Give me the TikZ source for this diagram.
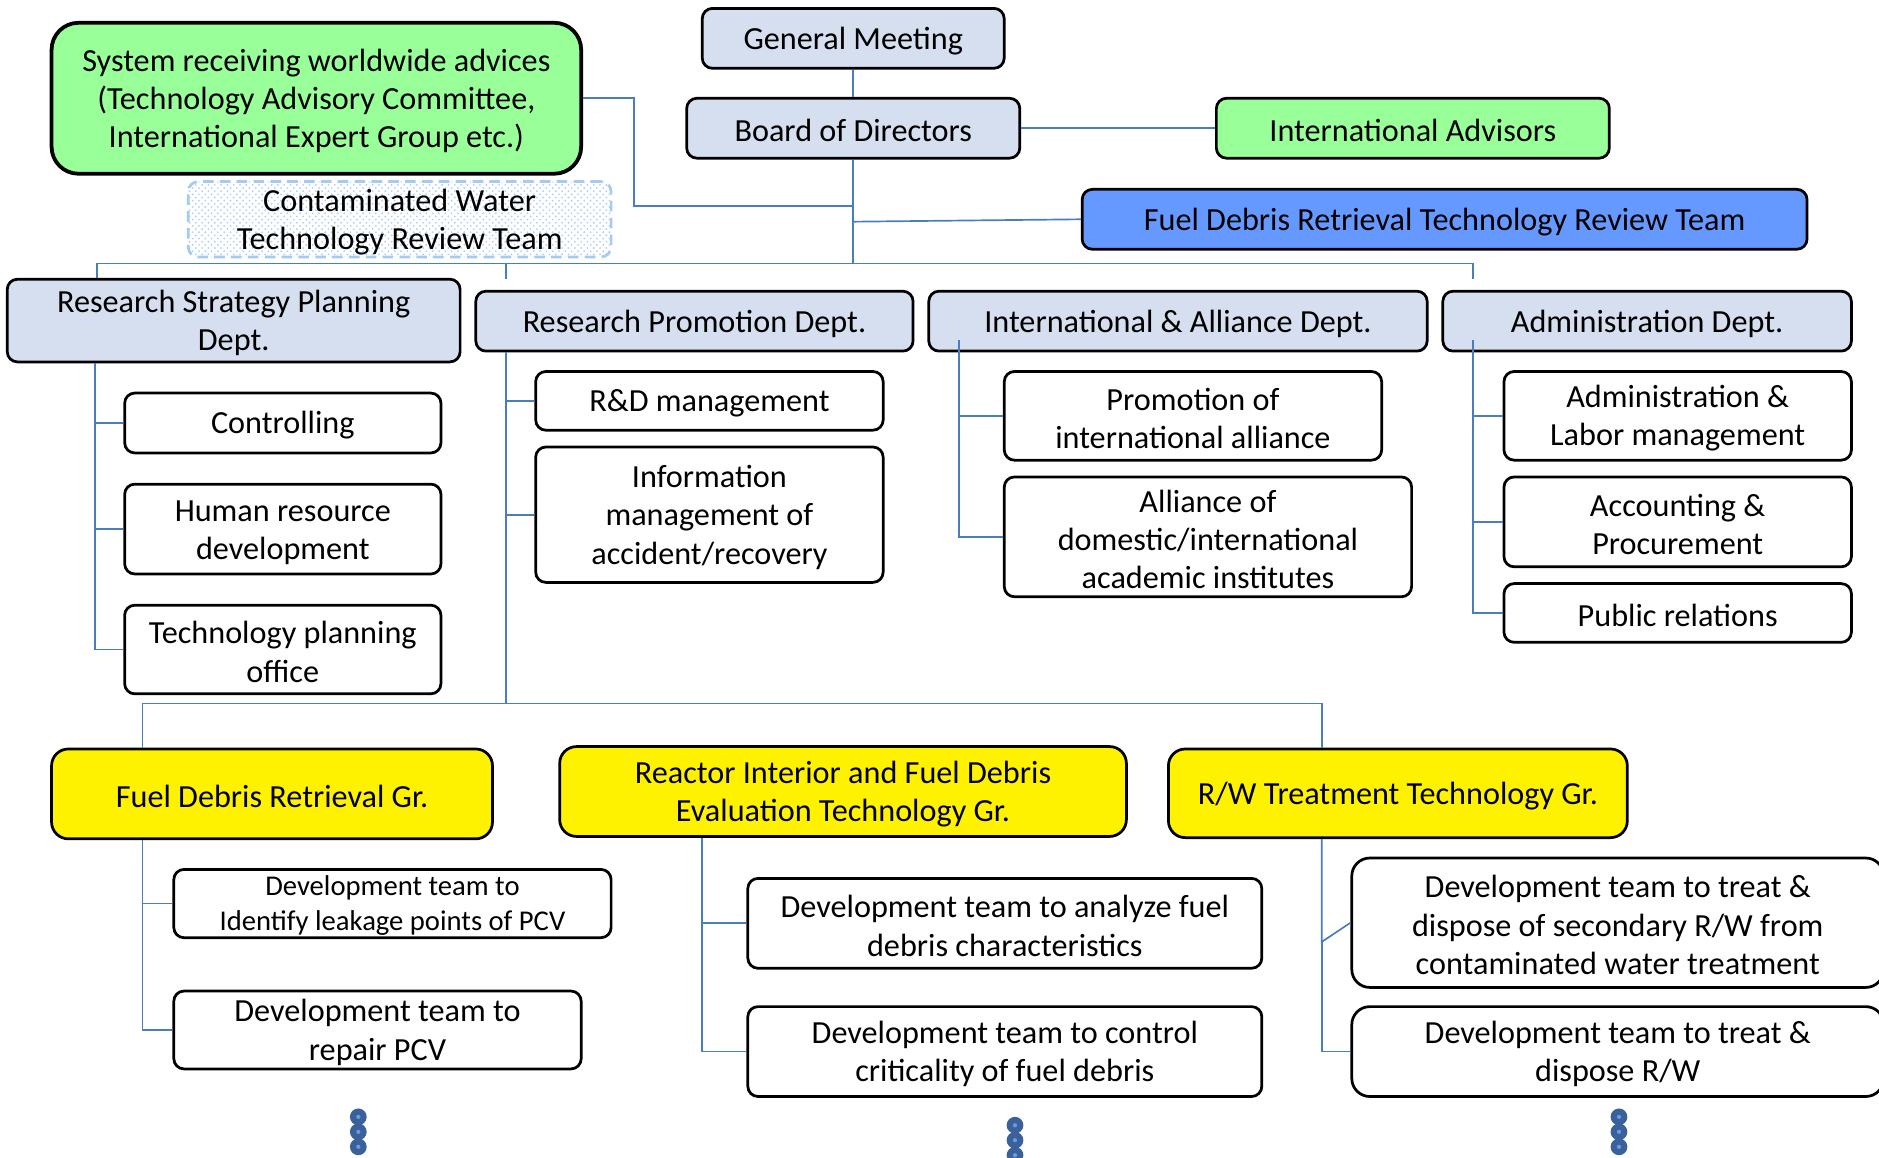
\documentclass[tikz,border=0pt]{standalone}
\usepackage{fontspec}
\setmainfont{Carlito}
\usetikzlibrary{positioning, patterns}
\definecolor{deptblue}{HTML}{D5DFEF}
\definecolor{advgreen}{HTML}{99FF99}
\definecolor{teamblue}{HTML}{6699FF}
\definecolor{linkblue}{HTML}{4A7EBB}
\definecolor{cwline}{HTML}{A5CBF2}
\definecolor{cwdot}{HTML}{B3D1F3}
\definecolor{dotblue}{HTML}{3A619B}
\definecolor{dotlight}{HTML}{6E9AD6}
% pushes the first text line down a little, as in the original
\newcommand{\ostrut}{\rule{0pt}{13pt}}

\begin{document}
\begin{tikzpicture}[x=0.02cm, y=-0.02cm,
  box/.style={draw, line width=1.3pt, rounded corners=0.17cm, align=center, inner sep=1pt, font=\fontsize{15.3}{18.2}\selectfont},
  dept/.style={box, fill=deptblue, minimum height=1cm},
  sub/.style={box, fill=white},
  grp/.style={box, fill=yellow, rounded corners=0.28cm, minimum height=1.5cm},
  adv/.style={box, fill=advgreen},
  link/.style={draw=linkblue, line width=0.8pt},
  more/.style={fill=dotblue, circle, inner sep=0, minimum size=0.28cm}]

  \useasboundingbox (0,0) rectangle (1568,966);

  % top of the organisation
  \node[dept, minimum width=5.04cm] (gm) at (712,32) {\ostrut General Meeting};
  \node[dept, minimum width=5.56cm] (bod) at (712,107) {\ostrut Board of Directors};
  \node[adv, minimum width=6.56cm, minimum height=1cm] (ia) at (1179,107) {\ostrut International Advisors};
  \node[adv, line width=1.8pt, rounded corners=0.45cm, minimum width=8.84cm, minimum height=2.52cm] (sys) at (264,82) {\ostrut System receiving worldwide advices\\(Technology Advisory Committee,\\International Expert Group etc.)};
  \node[box, draw=cwline, dashed, dash pattern=on 5pt off 3pt, pattern=crosshatch dots, pattern color=cwdot, minimum width=7.06cm, minimum height=1.12cm] (cw) at (333.5,183) {\ostrut Contaminated Water\\Technology Review Team};
  \node[box, fill=teamblue, minimum width=12.1cm, minimum height=1cm] (frt) at (1205.5,183) {\ostrut Fuel Debris Retrieval Technology Review Team};

  % departments
  \node[dept, minimum width=7.56cm, minimum height=1.38cm] (rsp) at (195,267.5) {\ostrut Research Strategy Planning\\Dept.};
  \node[dept, minimum width=7.3cm] (rpd) at (579.5,268) {\ostrut Research Promotion Dept.};
  \node[dept, minimum width=8.32cm] (iad) at (983,268) {\ostrut International \& Alliance Dept.};
  \node[dept, minimum width=6.82cm] (adm) at (1374.5,268) {\ostrut Administration Dept.};

  \node[sub, minimum width=5.28cm, minimum height=1cm] (ctrl) at (236,353) {\ostrut Controlling};
  \node[sub, minimum width=5.28cm, minimum height=1.5cm] (hrd) at (236,441.5) {\ostrut Human resource\\development};
  \node[sub, minimum width=5.28cm, minimum height=1.48cm] (tpo) at (236,542) {\ostrut Technology planning\\office};

  \node[sub, minimum width=5.8cm, minimum height=0.98cm] (rdm) at (592,334.5) {\ostrut R\&D management};
  \node[sub, minimum width=5.8cm, minimum height=2.26cm] (inf) at (592,429.5) {\ostrut Information\\management of\\accident/recovery};

  \node[sub, minimum width=6.3cm, minimum height=1.48cm] (pia) at (995.5,347) {\ostrut Promotion of\\international alliance};
  \node[sub, minimum width=6.8cm, minimum height=2cm] (adi) at (1008,448) {\ostrut Alliance of\\domestic/international\\academic institutes};

  \node[sub, minimum width=5.8cm, minimum height=1.48cm] (alm) at (1400,347) {\ostrut Administration \&\\Labor management};
  \node[sub, minimum width=5.8cm, minimum height=1.5cm] (acc) at (1400,435.5) {\ostrut Accounting \&\\Procurement};
  \node[sub, minimum width=5.8cm, minimum height=0.98cm] (pr) at (1400,511.5) {\ostrut Public relations};

  % groups
  \node[grp, minimum width=7.36cm] (fdg) at (227,662.5) {\ostrut Fuel Debris Retrieval Gr.};
  \node[grp, minimum width=9.46cm] (rig) at (703.5,660.5) {\ostrut Reactor Interior and Fuel Debris\\Evaluation Technology Gr.};
  \node[grp, minimum width=7.66cm, minimum height=1.48cm] (rwg) at (1166.5,662) {\ostrut R/W Treatment Technology Gr.};

  \node[sub, font=\fontsize{13.6}{16.5}\selectfont, minimum width=7.3cm, minimum height=1.12cm] (lkg) at (327.5,754) {\rule{0pt}{11.6pt}Development team to\\Identify leakage points of PCV};
  \node[sub, minimum width=6.8cm, minimum height=1.3cm] (rep) at (315,859.5) {\ostrut Development team to\\repair PCV};
  \node[sub, minimum width=8.58cm, minimum height=1.5cm] (ana) at (838.5,770.5) {\ostrut Development team to analyze fuel\\debris characteristics};
  \node[sub, minimum width=8.58cm, minimum height=1.5cm] (crt) at (838.5,877.5) {\ostrut Development team to control\\criticality of fuel debris};
  \node[sub, rounded corners=0.3cm, minimum width=8.88cm, minimum height=2.16cm] (sec) at (1350,770) {\ostrut Development team to treat \&\\dispose of secondary R/W from\\contaminated water treatment};
  \node[sub, rounded corners=0.3cm, minimum width=8.88cm, minimum height=1.5cm] (dsp) at (1350,877.5) {\ostrut Development team to treat \&\\dispose R/W};

  % joints
  \coordinate (tb) at (712,220);
  \coordinate (sysj) at (529,172);
  \coordinate (rpdtop) at (422,233);
  \coordinate (admtop) at (1229,233);
  \coordinate (iadj) at (800,284);
  \coordinate (admj) at (1229,284);
  \coordinate (gb) at (422,587);
  \coordinate (rwj) at (1103,786);

  % connectors
  \draw[link] (gm) -- (bod);
  \draw[link] (bod) -- (ia);
  \draw[link] (sys.east) -| (sysj) -- (sysj -| bod.south);
  \draw[link] (bod) -- (tb);
  \draw[link] (frt.west) -- (bod.south |- 0,185);
  \draw[link] (rsp.north -| 81,0) |- (tb) -| (admtop);
  \draw[link] (rpdtop) -- (rpdtop |- tb);

  \draw[link] (rsp.south -| 79,0) |- (ctrl.west);
  \draw[link] (rsp.south -| 79,0) |- (hrd.west);
  \draw[link] (rsp.south -| 79,0) |- (tpo.west);

  \draw[link] (rpd.south -| gb) |- (rdm.west);
  \draw[link] (rpd.south -| gb) |- (inf.west);
  \draw[link] (rpd.south -| gb) -- (gb);

  \draw[link] (iadj) |- (pia.west);
  \draw[link] (iadj) |- (adi.west);

  \draw[link] (admj) |- (alm.west);
  \draw[link] (admj) |- (acc.west);
  \draw[link] (admj) |- (pr.west);

  \draw[link] (fdg.north -| 119,0) |- (gb) -| (rwg.north -| 1103,0);
  \draw[link] (rig.north -| 586,0) -- (rig.north -| 586,587);

  \draw[link] (fdg.south -| 119,0) |- (lkg.west);
  \draw[link] (fdg.south -| 119,0) |- (rep.west);
  \draw[link] (rig.south -| 586,0) |- (ana.west);
  \draw[link] (rig.south -| 586,0) |- (crt.west);
  \draw[link] (rwg.south -| rwj) -- (rwj) -- (sec.west);
  \draw[link] (rwj) |- (dsp.west);

  % more teams below
  \foreach \x/\y in {299/932, 847/939, 1351/932} {
    \foreach \k in {0,1,2} {
      \node[more] at (\x,\y+12.5*\k) {};
      \fill[dotlight] (\x,\y+12.5*\k) circle (0.035cm);
    }
  }
\end{tikzpicture}
\end{document}
